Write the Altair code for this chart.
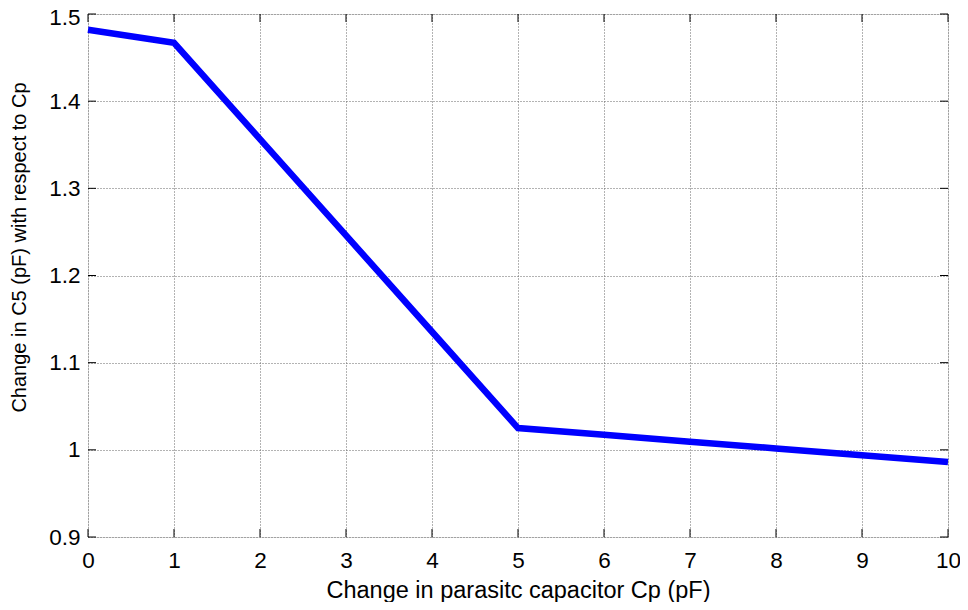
import altair as alt
import pandas as pd

x_vals = [0, 1, 2, 3, 4, 5, 6, 7, 8, 9, 10]
y_vals = [1.482, 1.467, 1.3565, 1.246, 1.1355, 1.025, 1.0172, 1.0094, 1.0016, 0.9938, 0.986]
x_ticks = [0, 1, 2, 3, 4, 5, 6, 7, 8, 9, 10]
y_ticks = [0.9, 1.0, 1.1, 1.2, 1.3, 1.4, 1.5]

df = pd.DataFrame({"x": x_vals, "y": y_vals})
xt = pd.DataFrame({"t": x_ticks})
yt = pd.DataFrame({"t": y_ticks})

FONT = "Liberation Sans"
W, H = 860, 523
xscale = alt.Scale(domain=[0, 10], nice=False, zero=False)
yscale = alt.Scale(domain=[0.9, 1.5], nice=False, zero=False)

line = alt.Chart(df).mark_line(color="#0000FF", strokeWidth=6.5, strokeJoin="miter").encode(
    x=alt.X("x:Q", scale=xscale,
            axis=alt.Axis(values=x_ticks, format="d", title="Change in parasitc capacitor Cp (pF)",
                          grid=True, gridColor="#666666", gridDash=[1, 2], gridWidth=1,
                          ticks=False, domain=False, labelPadding=12, labelFlush=False,
                          labelFont=FONT, labelFontSize=22.5, labelColor="black",
                          titleFont=FONT, titleFontSize=23.5, titleFontWeight="normal",
                          titleColor="black", titlePadding=7)),
    y=alt.Y("y:Q", scale=yscale,
            axis=alt.Axis(values=y_ticks, format=".2~f", title="Change in C5 (pF) with respect to Cp",
                          grid=True, gridColor="#666666", gridDash=[1, 2], gridWidth=1,
                          ticks=False, domain=False, labelPadding=8, labelFlush=False,
                          labelOffset={"condition": {"test": "datum.value > 1.45", "value": 3}, "value": 0},
                          labelFont=FONT, labelFontSize=22.5, labelColor="black",
                          titleFont=FONT, titleFontSize=20, titleFontWeight="normal",
                          titleColor="black", titleX=-59, titleY=233)),
)

tick_len = 8
xt_bottom = alt.Chart(xt).mark_rule(color="black", strokeWidth=1).encode(
    x=alt.X("t:Q", scale=xscale), y=alt.value(H), y2=alt.value(H - tick_len))
xt_top = alt.Chart(xt).mark_rule(color="black", strokeWidth=1).encode(
    x=alt.X("t:Q", scale=xscale), y=alt.value(0), y2=alt.value(tick_len))
yt_left = alt.Chart(yt).mark_rule(color="black", strokeWidth=1).encode(
    y=alt.Y("t:Q", scale=yscale), x=alt.value(0), x2=alt.value(tick_len))
yt_right = alt.Chart(yt).mark_rule(color="black", strokeWidth=1).encode(
    y=alt.Y("t:Q", scale=yscale), x=alt.value(W), x2=alt.value(W - tick_len))

chart = alt.layer(line, xt_bottom, xt_top, yt_left, yt_right).properties(
    width=W, height=H,
    autosize=alt.AutoSizeParams(type="none"),
    padding={"left": 80, "top": 6, "right": 12, "bottom": 65},
).configure_view(stroke="black", strokeWidth=1.3).configure(background="white")

chart.save("out.html", embed_options={"renderer": "svg", "actions": False})
